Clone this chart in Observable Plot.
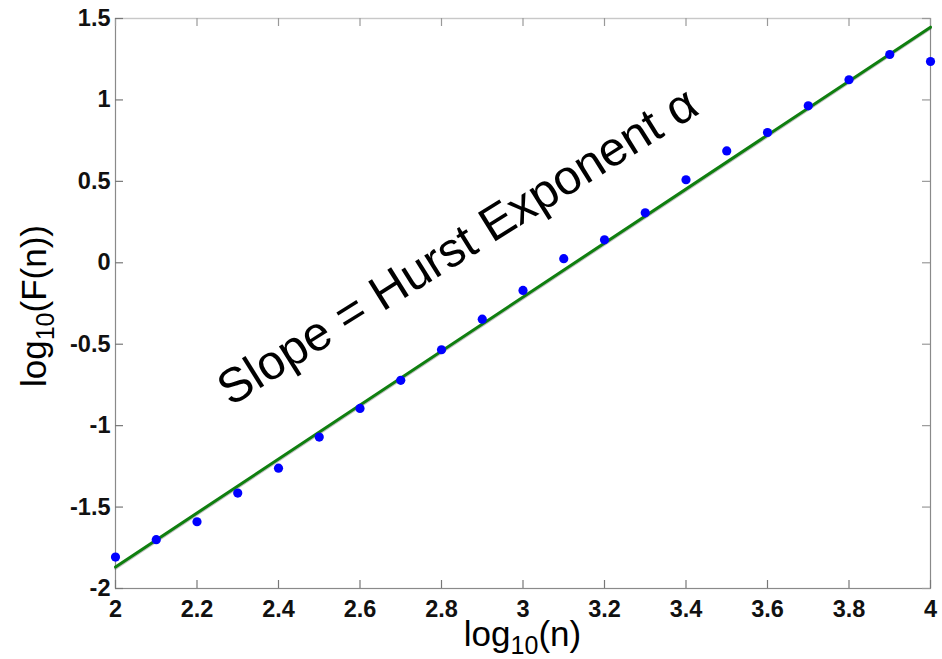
<!DOCTYPE html>
<html>
<head>
<meta charset="utf-8">
<script src="https://cdn.jsdelivr.net/npm/d3@7"></script>
<script src="https://cdn.jsdelivr.net/npm/@observablehq/plot@0.6"></script>
<style>
  html, body { margin: 0; padding: 0; background: #fff; }
  #chart svg { display: block; }
</style>
</head>
<body>
<div id="chart"></div>
<script>
// ---- data ----
const logN = [2.0, 2.1, 2.2, 2.3, 2.4, 2.5, 2.6, 2.7, 2.8, 2.9, 3.0, 3.1, 3.2, 3.3, 3.4, 3.5, 3.6, 3.7, 3.8, 3.9, 4.0];
const logF = [-1.807, -1.700, -1.590, -1.414, -1.261, -1.070, -0.894, -0.722, -0.534, -0.346, -0.170, 0.025, 0.141, 0.307, 0.510, 0.687, 0.800, 0.964, 1.124, 1.279, 1.236];
const fitX = [2, 4];
const fitY = [-1.868, 1.447];
const xDomain = [2, 4];
const yDomain = [-2, 1.5];
const xTicks = [2, 2.2, 2.4, 2.6, 2.8, 3, 3.2, 3.4, 3.6, 3.8, 4];
const yTicks = [-2, -1.5, -1, -0.5, 0, 0.5, 1, 1.5];
const annotationText = ["Slope = Hurst Exponent α"];
const annotationX = [2.282];
const annotationY = [-0.885];

// ---- layout ----
const W = 942, H = 659;
const mL = 115, mR = 12, mT = 18, mB = 71;
const innerW = W - mL - mR, innerH = H - mT - mB;
const tickLen = 8;
const font = "'Liberation Sans', Arial, Helvetica, sans-serif";

const points = logN.map((x, i) => ({x, y: logF[i]}));
const fit = fitX.map((x, i) => ({x, y: fitY[i]}));
const annotation = annotationText.map((t, i) => ({t, x: annotationX[i], y: annotationY[i]}));

const plot = Plot.plot({
  width: W,
  height: H,
  marginLeft: mL,
  marginRight: mR,
  marginTop: mT,
  marginBottom: mB,
  style: {fontFamily: font, background: "#fff", overflow: "visible"},
  x: {domain: xDomain, axis: null},
  y: {domain: yDomain, axis: null},
  marks: [
    // frame
    Plot.frame({stroke: "#8a8a8a", strokeWidth: 1.2}),
    Plot.ruleY([yDomain[1]], {stroke: "#c8c8c8", strokeWidth: 1.2}),
    // inward ticks: bottom, top
    Plot.tickX(xTicks, {x: d => d, insetTop: innerH - tickLen, stroke: "#777", strokeWidth: 1.2}),
    Plot.tickX(xTicks, {x: d => d, insetBottom: innerH - tickLen, stroke: "#999", strokeWidth: 1.2}),
    // inward ticks: left, right
    Plot.tickY(yTicks, {y: d => d, insetRight: innerW - tickLen, stroke: "#777", strokeWidth: 1.2}),
    Plot.tickY(yTicks, {y: d => d, insetLeft: innerW - tickLen, stroke: "#999", strokeWidth: 1.2}),
    // tick labels
    Plot.axisX(xTicks, {
      tickSize: 0, tickPadding: 12, label: null,
      tickFormat: d => String(d),
      fontSize: 23.5, fontWeight: "bold", fill: "#111"
    }),
    Plot.axisY(yTicks, {
      tickSize: 0, tickPadding: 5, label: null,
      tickFormat: d => String(d),
      fontSize: 23.5, fontWeight: "bold", fill: "#111"
    }),
    // fitted line (with faint shadow)
    Plot.line(fit, {x: "x", y: "y", stroke: "#333", strokeOpacity: 0.3, strokeWidth: 3, dy: 1.2}),
    Plot.line(fit, {x: "x", y: "y", stroke: "#0f7f0f", strokeWidth: 3}),
    // data points
    Plot.dot(points, {x: "x", y: "y", r: 4.6, fill: "#0000ff", stroke: null}),
    // annotation
    Plot.text(annotation, {
      x: "x", y: "y", text: "t",
      rotate: -32, textAnchor: "start", lineAnchor: "bottom",
      fontSize: 48.5, fill: "#000", fontFamily: font
    })
  ]
});

document.getElementById("chart").appendChild(plot);

// ---- axis titles with subscripts ----
const svg = d3.select(plot);
const labelSize = 35, subSize = 25, subShift = 8;

function addLabel(sel, main, sub, rest) {
  sel.append("tspan").text(main);
  sel.append("tspan").attr("font-size", subSize).attr("dy", subShift).text(sub);
  sel.append("tspan").attr("dy", -subShift).text(rest);
}

const xl = svg.append("text")
  .attr("x", mL + innerW / 2)
  .attr("y", H - 13)
  .attr("text-anchor", "middle")
  .attr("font-family", font)
  .attr("font-size", labelSize)
  .attr("fill", "#000");
addLabel(xl, "log", "10", "(n)");

const yl = svg.append("text")
  .attr("transform", `translate(46,${mT + innerH / 2 + 3}) rotate(-90)`)
  .attr("text-anchor", "middle")
  .attr("font-family", font)
  .attr("font-size", labelSize)
  .attr("fill", "#000");
addLabel(yl, "log", "10", "(F(n))");
</script>
</body>
</html>
